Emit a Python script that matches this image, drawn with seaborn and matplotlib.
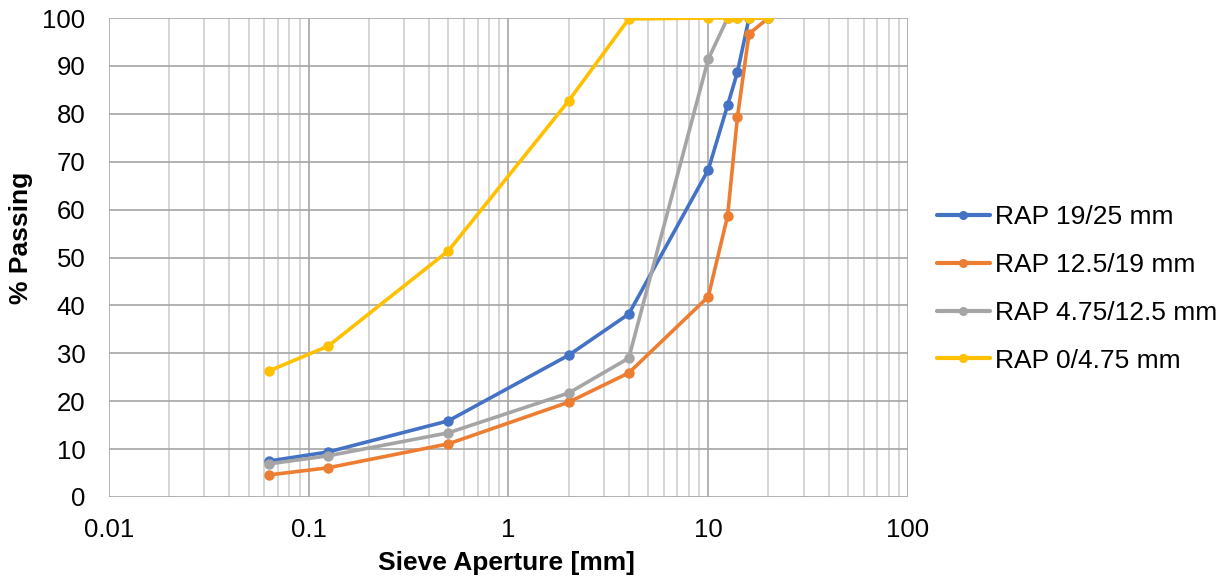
import numpy as np
import pandas as pd
import matplotlib
matplotlib.use("Agg")
import matplotlib.pyplot as plt
import seaborn as sns
from matplotlib.ticker import LogLocator, FixedLocator, FuncFormatter

# Sieve apertures [mm]
sieves = [0.063, 0.125, 0.5, 2, 4, 10, 12.5, 14, 16, 20]

# % passing per RAP fraction
rap_19_25 = [7.5, 9.4, 15.9, 29.6, 38.2, 68.3, 81.8, 88.7, 100, 100]
rap_125_19 = [4.6, 6.1, 11.1, 19.8, 25.9, 41.8, 58.7, 79.3, 96.7, 100]
rap_475_125 = [6.9, 8.6, 13.4, 21.7, 29.0, 91.4, 100, 100, 100, 100]
rap_0_475 = [26.3, 31.5, 51.4, 82.7, 99.8, 100, 100, 100, 100, 100]

series_names = ["RAP 19/25 mm", "RAP 12.5/19 mm", "RAP 4.75/12.5 mm", "RAP 0/4.75 mm"]
series_values = [rap_19_25, rap_125_19, rap_475_125, rap_0_475]
colors = ["#4472C4", "#ED7D31", "#A5A5A5", "#FFC000"]

frames = []
for name, vals in zip(series_names, series_values):
    frames.append(pd.DataFrame({"Sieve": sieves, "Passing": vals, "Fraction": name}))
df = pd.concat(frames, ignore_index=True)

sns.set_style("white")
plt.rcParams["font.family"] = ["Liberation Sans", "DejaVu Sans"]
plt.rcParams["text.color"] = "black"
plt.rcParams["axes.labelcolor"] = "black"

fig = plt.figure(figsize=(12.3, 5.78), dpi=100)
ax = fig.add_axes([109 / 1230, 1 - 497 / 578, (908 - 109) / 1230, (497 - 18) / 578])

sns.lineplot(data=df, x="Sieve", y="Passing", hue="Fraction", hue_order=series_names,
             palette=colors, marker="o", markersize=7.5, markeredgewidth=0,
             linewidth=2.6, ax=ax, sort=False, estimator=None, zorder=3)

ax.set_xscale("log")
ax.set_xlim(0.01, 100)
ax.set_ylim(0, 100)
ax.set_yticks(np.arange(0, 101, 10))
ax.xaxis.set_major_locator(FixedLocator([0.01, 0.1, 1, 10, 100]))
ax.xaxis.set_major_formatter(FuncFormatter(lambda v, p: f"{v:g}"))
ax.xaxis.set_minor_locator(LogLocator(base=10, subs=np.arange(2, 10)))
ax.xaxis.set_minor_formatter(FuncFormatter(lambda v, p: ""))

ax.grid(which="major", axis="both", color="#A6A6A6", linewidth=1.2, zorder=0)
ax.grid(which="minor", axis="x", color="#D0D0D0", linewidth=1.2, zorder=0)
ax.set_axisbelow(True)
for s in ax.spines.values():
    s.set_visible(False)
ax.tick_params(axis="both", which="both", length=0, labelsize=18.5, colors="black")
ax.tick_params(axis="y", pad=17)
ax.tick_params(axis="x", pad=15)

ax.set_xlabel("Sieve Aperture [mm]", fontsize=19, fontweight="bold", color="black")
ax.set_ylabel("% Passing", fontsize=19, fontweight="bold", color="black")
ax.xaxis.set_label_coords(0.498, -0.113)
ax.yaxis.set_label_coords(-0.095, 0.54)

leg = ax.legend(loc="center left", bbox_to_anchor=(937 / 1230, 1 - 289 / 578),
                bbox_transform=fig.transFigure, frameon=False, borderpad=0,
                borderaxespad=0, fontsize=19, handlelength=2.0,
                labelspacing=0.9, handletextpad=0.2)
for text in leg.get_texts():
    text.set_color("black")
for line in leg.get_lines():
    line.set_markersize(6.5)
    line.set_linewidth(3)

fig.savefig("out.png", dpi=100)
